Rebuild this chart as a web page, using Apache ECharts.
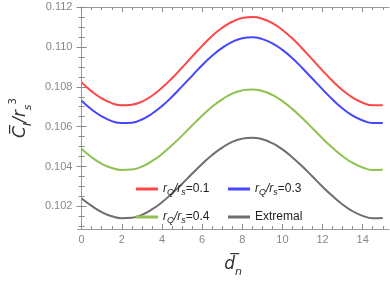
<!DOCTYPE html>
<html><head><meta charset="utf-8">
<script src="https://cdn.jsdelivr.net/npm/echarts@6/dist/echarts.min.js"></script>
<style>html,body{margin:0;padding:0;background:#fff}#c{width:390px;height:283px}</style>
</head><body><div id="c"></div>
<script>
var dn = [0,0.5,1,1.5,2,2.5,3,3.5,4,4.5,5,5.5,6,6.5,7,7.5,8,8.5,9,9.5,10,10.5,11,11.5,12,12.5,13,13.5,14,14.5,15];
var rq01 = [0.10822,0.10777,0.10742,0.10718,0.10707,0.10710,0.10726,0.10755,0.10795,0.10843,0.10896,0.10951,0.11005,0.11055,0.11096,0.11126,0.11145,0.11150,0.11141,0.11119,0.11085,0.11042,0.10991,0.10936,0.10881,0.10829,0.10783,0.10746,0.10720,0.10707,0.10708];
var rq03 = [0.10730,0.10686,0.10652,0.10628,0.10618,0.10620,0.10636,0.10665,0.10703,0.10750,0.10802,0.10855,0.10908,0.10955,0.10995,0.11025,0.11043,0.11048,0.11039,0.11018,0.10985,0.10943,0.10893,0.10840,0.10787,0.10736,0.10691,0.10655,0.10631,0.10618,0.10619];
var rq04 = [0.10488,0.10447,0.10414,0.10393,0.10383,0.10385,0.10400,0.10427,0.10463,0.10507,0.10555,0.10606,0.10655,0.10700,0.10737,0.10766,0.10782,0.10787,0.10779,0.10759,0.10728,0.10688,0.10642,0.10592,0.10541,0.10494,0.10452,0.10418,0.10395,0.10383,0.10384];
var extremal = [0.10240,0.10203,0.10172,0.10151,0.10141,0.10143,0.10158,0.10185,0.10221,0.10265,0.10313,0.10364,0.10413,0.10458,0.10495,0.10524,0.10540,0.10545,0.10537,0.10517,0.10486,0.10446,0.10400,0.10350,0.10299,0.10252,0.10210,0.10176,0.10153,0.10141,0.10142];
var names = ['rQ/rs=0.1','rQ/rs=0.3','rQ/rs=0.4','Extremal'];
var xMajor = [0,2,4,6,8,10,12,14];
var xMinor = [0.5,1,1.5,2.5,3,3.5,4.5,5,5.5,6.5,7,7.5,8.5,9,9.5,10.5,11,11.5,12.5,13,13.5,14.5,15];
var yMajor = [0.102,0.104,0.106,0.108,0.110,0.112];
var yMinor = [0.1010,0.1015,0.1025,0.1030,0.1035,0.1045,0.1050,0.1055,0.1065,0.1070,0.1075,0.1085,0.1090,0.1095,0.1105,0.1110,0.1115];

var XMIN=-0.21, XMAX=15.31, YMIN=0.10087, YMAX=0.112;
var frame='#9a9a9a', tickCol='#8a8a8a', labCol='#888888';
function pairs(v){return dn.map(function(x,i){return [x,v[i]];});}
var nameRich={
  i:{fontSize:17,fontStyle:'italic',color:'#333',fontFamily:'DejaVu Sans',lineHeight:26,verticalAlign:'middle'},
  s:{fontSize:11,fontStyle:'italic',color:'#333',fontFamily:'DejaVu Sans',lineHeight:11,verticalAlign:'bottom'},
  p:{fontSize:10,color:'#333',fontFamily:'DejaVu Sans',lineHeight:10,verticalAlign:'top'}
};
function xAx(pos, vals, len, showLine, showLab, name){
  var a={type:'value',position:pos,min:XMIN,max:XMAX,
    axisLine:{show:showLine,lineStyle:{color:frame,width:1}},
    axisTick:{show:true,inside:true,length:len,customValues:vals,lineStyle:{color:tickCol}},
    axisLabel:{show:showLab,customValues:vals,color:labCol,fontSize:11,fontFamily:'Liberation Sans',margin:5},
    splitLine:{show:false}};
  if(name){a.name=name;a.nameLocation='middle';a.nameGap=23;
    a.nameTextStyle={color:'#333',rich:nameRich};}
  return a;
}
function yAx(pos, vals, len, showLine, showLab, name){
  var a={type:'value',position:pos,min:YMIN,max:YMAX,
    axisLine:{show:showLine,lineStyle:{color:frame,width:1}},
    axisTick:{show:true,inside:true,length:len,customValues:vals,lineStyle:{color:tickCol}},
    axisLabel:{show:showLab,customValues:vals,color:labCol,fontSize:11,fontFamily:'Liberation Sans',margin:5,
      formatter:function(v){return v.toFixed(3);}},
    splitLine:{show:false}};
  if(name){a.name=name;a.nameLocation='middle';a.nameGap=37;a.nameRotate=90;
    a.nameTextStyle={color:'#333',rich:nameRich};}
  return a;
}
var legRich={
  i:{fontSize:12,fontStyle:'italic',color:'#222',fontFamily:'Liberation Sans',lineHeight:16,verticalAlign:'middle'},
  s:{fontSize:9,fontStyle:'italic',color:'#222',fontFamily:'Liberation Sans',lineHeight:9,verticalAlign:'bottom'},
  n:{fontSize:12,color:'#222',fontFamily:'Liberation Sans',lineHeight:16,verticalAlign:'middle'}
};
function legFmt(name){
  if(name==='Extremal') return '{n|Extremal}';
  var val=name.split('=')[1];
  return '{i|r}{s|Q}{i|/r}{s|s}{n|='+val+'}';
}
var legPos=[[136,183],[228,183],[136,211],[228,211]];
var legends=names.map(function(n,i){
  return {data:[n],left:legPos[i][0],top:legPos[i][1],icon:'rect',itemWidth:22,itemHeight:3,itemGap:0,
    formatter:legFmt,textStyle:{rich:legRich,color:'#222'},selectedMode:false,padding:0};
});
var colors=['#ff4646','#4646ff','#8fc150','#6e6e6e'];
var vals=[rq01,rq03,rq04,extremal];
var chart=echarts.init(document.getElementById('c'),null,{renderer:'canvas'});
chart.setOption({
  animation:false,
  grid:{left:60,right:1,top:7,bottom:46.5,containLabel:false},
  legend:legends,
  xAxis:[xAx('bottom',xMajor,5,true,true,'{i|d\u0305}{s|n}'),xAx('bottom',xMinor,3,false,false),
         xAx('top',xMajor,5,true,false),xAx('top',xMinor,3,false,false)],
  yAxis:[yAx('left',yMajor,5,true,true,'{i|C\u0305}{s|I}{i|/r}{s|s}{p|3}'),yAx('left',yMinor,3,false,false),
         yAx('right',yMajor,5,true,false),yAx('right',yMinor,3,false,false)],
  series:names.map(function(n,i){
    return {name:n,type:'line',xAxisIndex:0,yAxisIndex:0,data:pairs(vals[i]),smooth:true,showSymbol:false,
      lineStyle:{color:colors[i],width:2},itemStyle:{color:colors[i]}};
  })
});
</script></body></html>
